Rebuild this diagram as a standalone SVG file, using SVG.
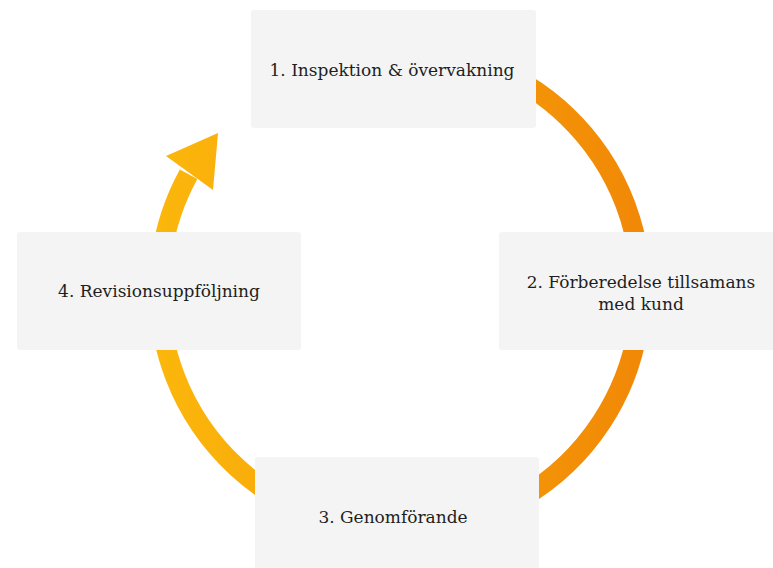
<svg xmlns="http://www.w3.org/2000/svg" width="773" height="568" viewBox="0 0 773 568">
  <style>
    .box { fill: #F4F4F4; }
    .lbl { font-family: "DejaVu Serif", "Liberation Serif", serif; font-size: 17px; fill: #1E1E1E; text-anchor: middle; }
  </style>
  <defs>
    <linearGradient id="ringGrad" gradientUnits="userSpaceOnUse" x1="155" y1="0" x2="645" y2="0">
      <stop offset="0" stop-color="#FBB70C"/>
      <stop offset="1" stop-color="#F18806"/>
    </linearGradient>
  </defs>
  <rect width="773" height="568" fill="#FFFFFF"/>
  <g id="connectors">
    <path d="M 400 49 A 241 241 0 1 1 188.6 174.3" fill="none" stroke="url(#ringGrad)" stroke-width="20"/>
    <polygon points="218,133 166,156 213,190" fill="url(#ringGrad)"/>
  </g>
  <g id="node1">
    <rect class="box" x="251" y="10" width="285" height="118" rx="3"/>
    <text class="lbl" x="392" y="76">1. Inspektion &amp; övervakning</text>
  </g>
  <g id="node2">
    <rect class="box" x="499" y="232" width="285" height="118" rx="3"/>
    <text class="lbl" x="641" y="288">2. Förberedelse tillsamans</text>
    <text class="lbl" x="641" y="310">med kund</text>
  </g>
  <g id="node3">
    <rect class="box" x="255" y="457" width="284" height="118" rx="3"/>
    <text class="lbl" x="393" y="523">3. Genomförande</text>
  </g>
  <g id="node4">
    <rect class="box" x="17" y="232" width="284" height="118" rx="3"/>
    <text class="lbl" x="159" y="297">4. Revisionsuppföljning</text>
  </g>
</svg>
